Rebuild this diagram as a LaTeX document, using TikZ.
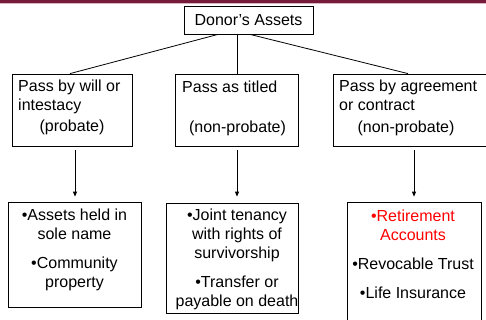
\documentclass[tikz,border=0pt]{standalone}
\usepackage{fontspec}
\setmainfont{Liberation Sans}
\usetikzlibrary{arrows.meta}
\definecolor{barmaroon}{RGB}{118,28,58}
\definecolor{barpink}{RGB}{214,180,192}

\begin{document}
\begin{tikzpicture}[
        x=1pt, y=-1pt,
        every node/.style={font=\fontsize{16}{19}\selectfont, inner sep=0pt},
        box/.style={draw, line width=0.8pt, fill=white},
        txt/.style={align=left, anchor=north west},
        list/.style={align=center, anchor=north},
        tag/.style={anchor=base},
        link/.style={line width=0.8pt},
        arr/.style={-{Triangle[length=5pt, width=4pt]}, line width=0.8pt}
    ]
        \useasboundingbox (0,0) rectangle (486,320);

        % Slide bar
        \fill[barmaroon] (0,0) rectangle (486,3);
        \draw[barpink, line width=0.6pt] (0,3.6) -- (486,3.6);

        % Root
        \node[box, minimum width=129pt, minimum height=28pt] (donor) at (248.5,20) {Donor’s Assets};

        % Ways to pass
        \node[box, minimum width=120pt, minimum height=72pt] (will) at (72,110) {};
        \node[box, minimum width=123pt, minimum height=72pt] (titled) at (236.5,110) {};
        \node[box, minimum width=160pt, minimum height=72pt] (contract) at (413,110) {};
        \node[txt] (willtxt) at (18,79.5) {Pass by will or\\intestacy};
        \node[txt] (titledtxt) at (182,80.5) {Pass as titled};
        \node[txt] (contracttxt) at (339,80) {Pass by agreement\\or contract};
        \node[tag] (willtag) at (72,132) {(probate)};
        \node[tag] (titledtag) at (237.5,132.5) {(non-probate)};
        \node[tag] (contracttag) at (406,132.5) {(non-probate)};

        % Asset lists
        \node[box, minimum width=133pt, minimum height=105pt] (sole) at (74.5,254.5) {};
        \node[box, minimum width=132pt, minimum height=110pt] (joint) at (232,258) {};
        \node[box, minimum width=134pt, minimum height=130pt] (plan) at (414,267) {};
        \node[list] (soletxt) at (74.5,208.5) {•Assets held in\\sole name\\[10pt]•Community\\property};
        \node[list] (jointtxt) at (237,208.5) {•Joint tenancy\\with rights of\\survivorship\\[10pt]•Transfer or\\payable on death};
        \node[list] (plantxt) at (413,209.5) {{\color{red}•Retirement}\\{\color{red}Accounts}\\[10pt]•Revocable Trust\\[10pt]•Life Insurance};

        % Links
        \draw[link] ([xshift=-30.5pt]donor.south) -- ([xshift=-2pt]will.north);
        \draw[link] ([xshift=-11.5pt]donor.south) -- ([xshift=0.5pt]titled.north);
        \draw[link] ([xshift=1.5pt]donor.south) -- ([xshift=-5pt]contract.north);
        \draw[arr, shorten <=4pt, shorten >=5pt] ([xshift=3pt]will.south) -- ([xshift=3pt]will.south |- sole.north);
        \draw[arr, shorten <=4pt, shorten >=6pt] ([xshift=0.5pt]titled.south) -- ([xshift=0.5pt]titled.south |- joint.north);
        \draw[arr, shorten <=4pt, shorten >=5pt] ([xshift=1pt]contract.south) -- ([xshift=1pt]contract.south |- plan.north);
    \end{tikzpicture}
\end{document}
